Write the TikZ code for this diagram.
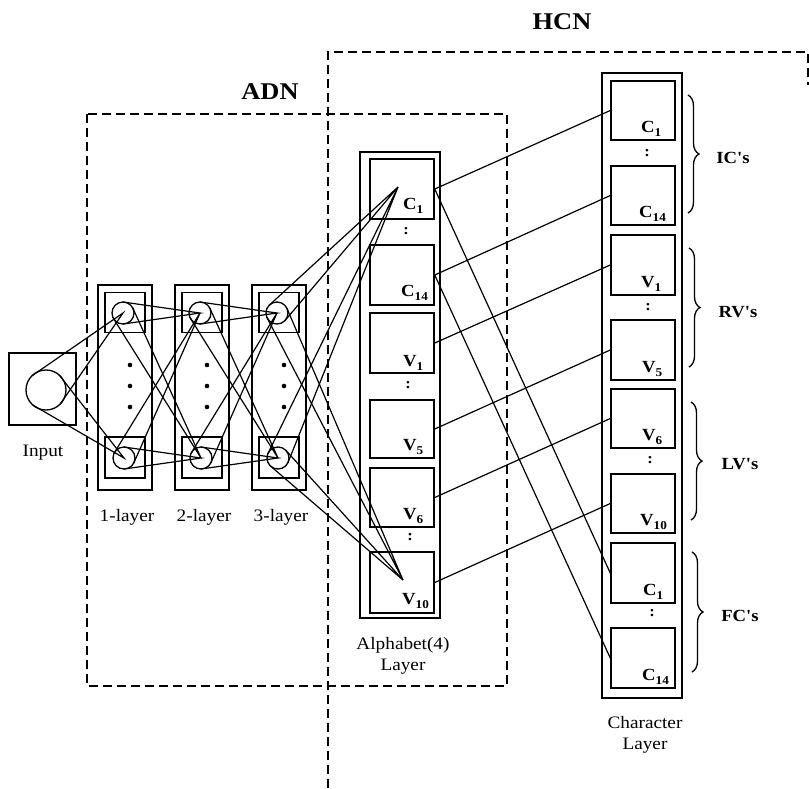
\documentclass[tikz,border=0pt]{standalone}
\usepackage{fontspec}
\setmainfont{Liberation Serif}[FakeStretch=1.1]
\newfontfamily\plainf{Liberation Serif}[FakeStretch=1.1]
\usetikzlibrary{calc,decorations.pathreplacing}
\newcommand\subx[1]{\raisebox{-0.45ex}{\fontsize{12}{12}\selectfont #1}}
\newcommand\wedgeline[3]{\draw[conn] ($(#1.center)!#3!90:(#2.center)$) -- (#2.center) -- ($(#1.center)!#3!-90:(#2.center)$);}
\begin{document}
\begin{tikzpicture}[x=1pt,y=-1pt,
  frame/.style={draw,line width=1.5pt,inner sep=0pt},
  abox/.style={frame,minimum width=64pt,minimum height=60pt},
  neuron/.style={draw,circle,line width=1.3pt,minimum size=22pt,inner sep=0pt},
  conn/.style={line width=1.2pt},
  dsh/.style={line width=1.4pt,dash pattern=on 9pt off 5pt},
  lab/.style={font=\fontsize{17.5}{21}\selectfont,align=center,inner sep=0pt},
  blab/.style={font=\bfseries\fontsize{17}{18}\selectfont,inner sep=0pt,anchor=base west},
  grp/.style={font=\plainf\bfseries\fontsize{17}{18}\selectfont,inner sep=0pt},
  title/.style={font=\bfseries\fontsize{24}{26}\selectfont,inner sep=0pt},
  colon/.style={font=\bfseries\fontsize{15}{15}\selectfont,inner sep=0pt},
  brc/.style={line width=1.3pt,decorate,decoration={brace,amplitude=11pt}}]
\useasboundingbox (0,0) rectangle (809,788);

% dashed group boxes
\draw[dsh] (87,114) rectangle (507,686);
\draw[dsh] (328,788) -- (328,52) -- (808,52) -- (808,85);
\node[title] (adn) at (270,92) {ADN};
\node[title] (hcn) at (562,22) {HCN};

% input
\node[frame,minimum width=67pt,minimum height=72pt] (inbox) at (42.5,389) {};
\node[neuron,minimum size=40pt] (in) at (46,390) {};
\node[lab] (inlab) at (43,453) {Input};

% hidden layers
\foreach \n/\cx in {1/125,2/202,3/279}{
  \node[frame,minimum width=54pt,minimum height=205pt] (L\n) at (\cx,387.5) {};
  \node[frame,minimum width=40pt,minimum height=40pt] (L\n tb) at (\cx,312.5) {};
  \node[frame,minimum width=40pt,minimum height=41pt] (L\n bb) at (\cx,457.5) {};
  \node[neuron] (L\n t) at (\cx-2,313) {};
  \node[neuron] (L\n b) at (\cx-1,458) {};
  \foreach \yy in {365,386,407}{\fill (\cx+5,\yy) circle (2.3pt);}
  \node[lab] (L\n lab) at (\cx+2,517) {\n-layer};
}

% alphabet layer
\node[frame,minimum width=80pt,minimum height=466pt] (alpha) at (400,385) {};
\node[abox] (aC1) at (402,189) {};
\node[abox] (aC14) at (402,275) {};
\node[abox] (aV1) at (402,343) {};
\node[abox,minimum height=58pt] (aV5) at (402,429) {};
\node[abox,minimum height=59pt] (aV6) at (402,497.5) {};
\node[abox,minimum height=61pt] (aV10) at (402,582.5) {};
\node[blab] at ($(aC1.south)+(1,-10)$) {C\subx{1}};
\node[blab] at ($(aC14.south)+(-1,-9)$) {C\subx{14}};
\node[blab] at ($(aV1.south)+(1,-7)$) {V\subx{1}};
\node[blab] at ($(aV5.south)+(1,-8)$) {V\subx{5}};
\node[blab] at ($(aV6.south)+(1,-8)$) {V\subx{6}};
\node[blab] at ($(aV10.south)+(0,-9)$) {V\subx{10}};
\node[colon] (ac1) at (406,231) {:};
\node[colon] (ac2) at (408,385) {:};
\node[colon] (ac3) at (410,537) {:};
\node[lab] (alab) at (403,656) {Alphabet(4)\\Layer};
\coordinate (c1p) at (398,187);
\coordinate (v10p) at (403,580);

% character layer
\node[frame,minimum width=80pt,minimum height=625pt] (charl) at (642,385.5) {};
\node[abox,minimum height=59pt] (cC1) at (643,110.5) {};
\node[abox,minimum height=59pt] (cC14) at (643,195.5) {};
\node[abox] (cV1) at (643,265) {};
\node[abox] (cV5) at (643,350) {};
\node[abox,minimum height=59pt] (cV6) at (643,418.5) {};
\node[abox,minimum height=59pt] (cV10) at (643,503.5) {};
\node[abox] (fC1) at (643,573) {};
\node[abox] (fC14) at (643,658) {};
\node[blab] at ($(cC1.south)+(-2,-8)$) {C\subx{1}};
\node[blab] at ($(cC14.south)+(-4,-8)$) {C\subx{14}};
\node[blab] at ($(cV1.south)+(-2,-8)$) {V\subx{1}};
\node[blab] at ($(cV5.south)+(-1,-8)$) {V\subx{5}};
\node[blab] at ($(cV6.south)+(-1,-8)$) {V\subx{6}};
\node[blab] at ($(cV10.south)+(-3,-8)$) {V\subx{10}};
\node[blab] at ($(fC1.south)+(0,-8)$) {C\subx{1}};
\node[blab] at ($(fC14.south)+(-1,-8)$) {C\subx{14}};
\node[colon] (cc1) at (647,153) {:};
\node[colon] (cc2) at (648,307) {:};
\node[colon] (cc3) at (650,460) {:};
\node[colon] (cc4) at (652,613) {:};
\node[lab] (clab) at (645,735) {Character\\Layer};

% braces
\draw[brc] (688,95) -- (688,213);
\draw[brc] (689,248) -- (689,367);
\draw[brc] (691,402) -- (691,520);
\draw[brc] (692,552) -- (692,672);
\node[grp] (ic) at (733,158) {IC's};
\node[grp] (rv) at (738,312) {RV's};
\node[grp] (lv) at (740,464) {LV's};
\node[grp] (fc) at (740,616) {FC's};

% connections in ADN
\wedgeline{in}{L1t}{20pt}
\wedgeline{in}{L1b}{20pt}
\wedgeline{L1t}{L2t}{11pt}
\wedgeline{L1t}{L2b}{11pt}
\wedgeline{L1b}{L2t}{11pt}
\wedgeline{L1b}{L2b}{11pt}
\wedgeline{L2t}{L3t}{11pt}
\wedgeline{L2t}{L3b}{11pt}
\wedgeline{L2b}{L3t}{11pt}
\wedgeline{L2b}{L3b}{11pt}
\wedgeline{L3t}{c1p}{11pt}
\wedgeline{L3t}{v10p}{11pt}
\wedgeline{L3b}{c1p}{11pt}
\wedgeline{L3b}{v10p}{11pt}

% connections alphabet -> character
\draw[conn] (aC1.east) -- (cC1.west);
\draw[conn] (aC14.east) -- (cC14.west);
\draw[conn] (aV1.east) -- (cV1.west);
\draw[conn] (aV5.east) -- (cV5.west);
\draw[conn] (aV6.east) -- (cV6.west);
\draw[conn] (aV10.east) -- (cV10.west);
\draw[conn] (aC1.east) -- (fC1.west);
\draw[conn] (aC14.east) -- (fC14.west);
\end{tikzpicture}
\end{document}
